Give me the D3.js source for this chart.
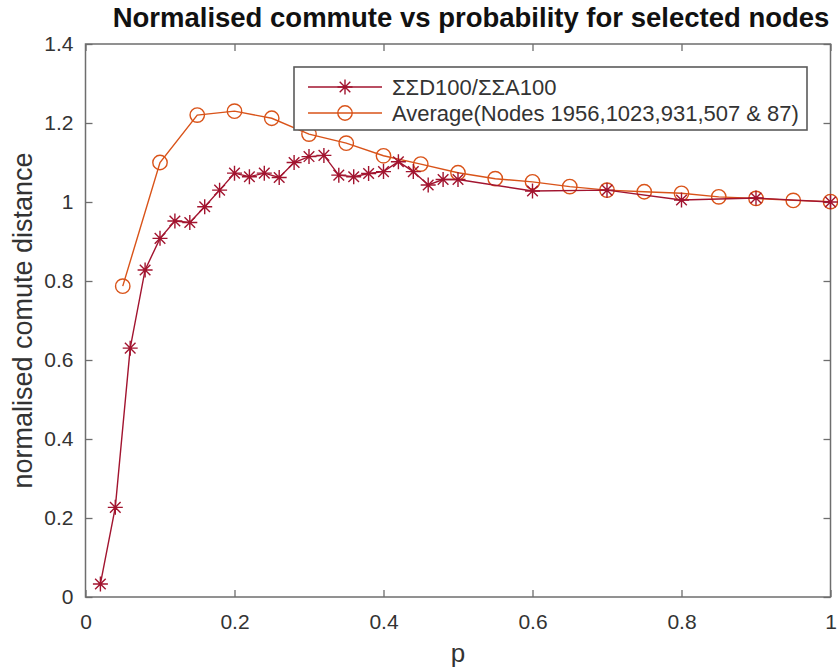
<!DOCTYPE html>
<html>
<head>
    <title>Normalised commute vs probability</title>
    <script src="https://cdn.jsdelivr.net/npm/d3@7"></script>
    <style>
        body { margin: 0; background: #fff; }
        text { font-family: "Liberation Sans", Arial, sans-serif; }
    </style>
</head>
<body>
<div class="viz-container"></div>
<script>
    // series 1: sum ratio, sampled every 0.02 up to 0.5 then every 0.1
    var pSum = [0.02, 0.04, 0.06, 0.08, 0.10, 0.12, 0.14, 0.16, 0.18, 0.20,
                0.22, 0.24, 0.26, 0.28, 0.30, 0.32, 0.34, 0.36, 0.38, 0.40,
                0.42, 0.44, 0.46, 0.48, 0.50, 0.6, 0.7, 0.8, 0.9, 1.0];
    var ratioSum = [0.033, 0.227, 0.630, 0.828, 0.908, 0.952, 0.948, 0.988, 1.030, 1.073,
                    1.064, 1.073, 1.062, 1.100, 1.115, 1.118, 1.068, 1.064, 1.072, 1.077,
                    1.102, 1.077, 1.043, 1.057, 1.057, 1.028, 1.030, 1.005, 1.010, 1.000];

    // series 2: average over selected nodes, every 0.05
    var pAvg = [0.05, 0.10, 0.15, 0.20, 0.25, 0.30, 0.35, 0.40, 0.45, 0.50,
                0.55, 0.60, 0.65, 0.70, 0.75, 0.80, 0.85, 0.90, 0.95, 1.0];
    var avgVals = [0.787, 1.100, 1.220, 1.230, 1.212, 1.172, 1.149, 1.117, 1.096, 1.074,
                   1.059, 1.051, 1.039, 1.030, 1.026, 1.022, 1.013, 1.009, 1.004, 1.001];

    var xTicks = [0, 0.2, 0.4, 0.6, 0.8, 1];
    var yTicks = [0, 0.2, 0.4, 0.6, 0.8, 1, 1.2, 1.4];
    var seriesNames = ["\u03A3\u03A3D100/\u03A3\u03A3A100", "Average(Nodes 1956,1023,931,507 & 87)"];

    var width = 838, height = 670;
    // plot box edges (pixels)
    var plotL = 85.5, plotR = 830.5, plotT = 44, plotB = 597;
    var axisColor = "#6e6e6e", textColor = "#333";
    var redCol = "#A2142F", orangeCol = "#D95319";

    var svg = d3.select(".viz-container").append("svg")
        .attr("width", width).attr("height", height);

    var x = d3.scaleLinear().domain([0, 1]).range([plotL, plotR]);
    var y = d3.scaleLinear().domain([0, 1.4]).range([plotB, plotT]);

    // axes, ticks pointing inward like matlab
    function styleAxis(g) {
        g.select(".domain").remove();
        g.selectAll(".tick line").attr("stroke", axisColor).attr("stroke-width", 1.3);
        g.selectAll(".tick text").attr("fill", textColor).style("font-size", "21px");
    }
    var fmt = function(d) { return String(+d.toFixed(1)); };

    svg.append("g").attr("transform", "translate(0," + plotB + ")")
        .call(d3.axisBottom(x).tickValues(xTicks).tickFormat(fmt).tickSizeInner(-7).tickSizeOuter(0).tickPadding(17))
        .call(styleAxis);
    svg.append("g").attr("transform", "translate(0," + plotT + ")")
        .call(d3.axisTop(x).tickValues(xTicks).tickFormat("").tickSizeInner(-7).tickSizeOuter(0))
        .call(styleAxis);
    svg.append("g").attr("transform", "translate(" + plotL + ",0)")
        .call(d3.axisLeft(y).tickValues(yTicks).tickFormat(fmt).tickSizeInner(-7).tickSizeOuter(0).tickPadding(12))
        .call(styleAxis);
    svg.append("g").attr("transform", "translate(" + plotR + ",0)")
        .call(d3.axisRight(y).tickValues(yTicks).tickFormat("").tickSizeInner(-7).tickSizeOuter(0))
        .call(styleAxis);

    // box
    svg.append("rect")
        .attr("x", plotL).attr("y", plotT)
        .attr("width", plotR - plotL).attr("height", plotB - plotT)
        .attr("fill", "none").attr("stroke", axisColor).attr("stroke-width", 1.5);

    // lines
    var line = d3.line().x(function(d) { return x(d[0]); }).y(function(d) { return y(d[1]); });
    var sumData = d3.zip(pSum, ratioSum);
    var avgData = d3.zip(pAvg, avgVals);

    svg.append("path").datum(avgData).attr("d", line)
        .attr("fill", "none").attr("stroke", orangeCol).attr("stroke-width", 1.4);
    svg.selectAll(".circ").data(avgData).enter().append("circle")
        .attr("cx", function(d) { return x(d[0]); })
        .attr("cy", function(d) { return y(d[1]); })
        .attr("r", 7.2).attr("fill", "none").attr("stroke", orangeCol).attr("stroke-width", 1.4);

    svg.append("path").datum(sumData).attr("d", line)
        .attr("fill", "none").attr("stroke", redCol).attr("stroke-width", 1.4);

    // 8 armed asterisk
    function asterisk(cx, cy, s) {
        var d = s * 0.7071;
        return "M" + (cx - s) + "," + cy + "H" + (cx + s) +
               "M" + cx + "," + (cy - s) + "V" + (cy + s) +
               "M" + (cx - d) + "," + (cy - d) + "L" + (cx + d) + "," + (cy + d) +
               "M" + (cx - d) + "," + (cy + d) + "L" + (cx + d) + "," + (cy - d);
    }
    svg.selectAll(".star").data(sumData).enter().append("path")
        .attr("d", function(d) { return asterisk(x(d[0]), y(d[1]), 7.5); })
        .attr("stroke", redCol).attr("stroke-width", 1.4).attr("fill", "none");

    // title and labels
    svg.append("text").attr("x", 471).attr("y", 27)
        .attr("text-anchor", "middle").style("font-size", "27.5px").style("font-weight", "bold")
        .attr("fill", "#111")
        .text("Normalised commute vs probability for selected nodes");
    svg.append("text").attr("x", (plotL + plotR) / 2).attr("y", 662)
        .attr("text-anchor", "middle").style("font-size", "26px").attr("fill", textColor)
        .text("p");
    svg.append("text")
        .attr("transform", "translate(32," + ((plotT + plotB) / 2) + ") rotate(-90)")
        .attr("text-anchor", "middle").style("font-size", "27px").attr("fill", textColor)
        .text("normalised comute distance");

    // legend
    var lg = svg.append("g");
    lg.append("rect").attr("x", 294).attr("y", 67).attr("width", 513).attr("height", 63)
        .attr("fill", "#fff").attr("stroke", "#5a5a5a").attr("stroke-width", 1.6);
    var rows = [87, 113];
    rows.forEach(function(ry, i) {
        var col = i === 0 ? redCol : orangeCol;
        lg.append("line").attr("x1", 308).attr("x2", 382).attr("y1", ry).attr("y2", ry)
            .attr("stroke", col).attr("stroke-width", 1.4);
        if (i === 0) {
            lg.append("path").attr("d", asterisk(345, ry, 7.5))
                .attr("stroke", col).attr("stroke-width", 1.4);
        } else {
            lg.append("circle").attr("cx", 345).attr("cy", ry).attr("r", 7.2)
                .attr("fill", "none").attr("stroke", col).attr("stroke-width", 1.4);
        }
        lg.append("text").attr("x", 392).attr("y", ry).attr("dy", "0.36em")
            .style("font-size", "22px").attr("fill", textColor)
            .text(seriesNames[i]);
    });
</script>
</body>
</html>
